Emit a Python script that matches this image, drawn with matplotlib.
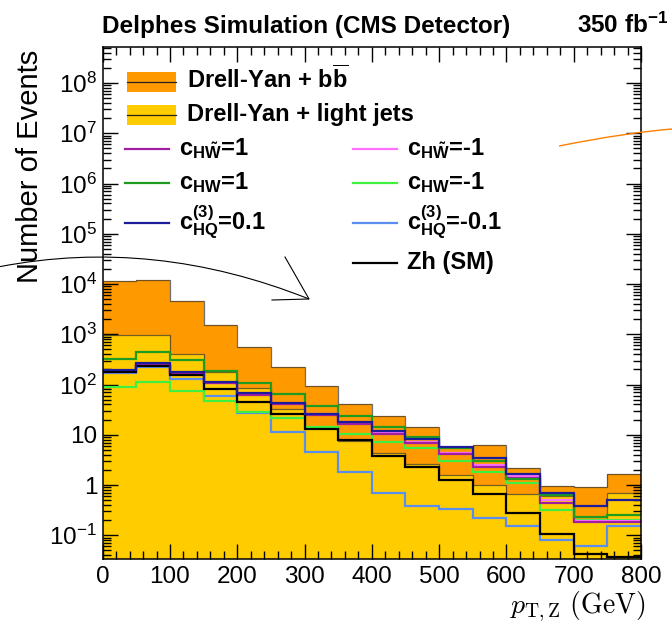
import numpy as np
import matplotlib
matplotlib.use("Agg")
import matplotlib.pyplot as plt
import matplotlib.patches as patches
import matplotlib.transforms as mtransforms
from matplotlib.path import Path
from matplotlib.ticker import FixedLocator, MultipleLocator, LogLocator, NullFormatter

plt.rcParams['font.family'] = ['Liberation Sans', 'DejaVu Sans']
plt.rcParams['mathtext.fontset'] = 'custom'
plt.rcParams['mathtext.rm'] = 'Liberation Sans'
plt.rcParams['mathtext.it'] = 'Liberation Sans:italic'
plt.rcParams['mathtext.bf'] = 'Liberation Sans:bold'

# pT,Z bins (GeV)
edges = np.arange(0, 801, 50)

# backgrounds (stacked)
dy_light = [950, 950, 400, 177, 85, 33, 14, 7.5, 4.4, 2.6, 1.6, 1.0, 0.66, 0.6, 0.2, 0.69]
dy_bb = [10550, 11050, 4200, 1363, 475, 192, 79, 32.5, 19.6, 11.4, 4.1, 5.3, 1.54, 0.35, 0.71, 0.97]

# signal hypotheses
c_hwt_p1 = [185, 250, 170, 105, 63, 40, 25, 16.5, 10.3, 6.8, 4.1, 2.3, 1.36, 0.44, 0.18, 0.18]
c_hwt_m1 = [180, 245, 168, 108, 65, 41, 25.5, 17, 11, 7.2, 4.3, 2.5, 1.5, 0.5, 0.19, 0.19]
c_hw_p1 = [316, 444, 305, 182, 108, 65, 37, 24, 14.3, 9.0, 5.4, 3.0, 1.3, 0.62, 0.23, 0.25]
c_hw_m1 = [90, 111, 73, 46, 29, 21.6, 14.3, 10.5, 7.1, 5.4, 3.0, 1.8, 1.1, 0.32, 0.2, 0.2]
c_hq_p = [193, 263, 179, 111, 68, 43, 26, 18, 12, 8.2, 5.7, 3.4, 1.64, 0.7, 0.38, 0.5]
c_hq_m = [166, 225, 126, 60, 27, 11.6, 4.6, 1.8, 0.7, 0.38, 0.33, 0.22, 0.15, 0.08, 0.06, 0.15]
zh_sm = [175, 235, 158, 82, 45, 26, 13, 7.9, 3.8, 2.26, 1.26, 0.65, 0.28, 0.105, 0.043, 0.037]

ytick_vals = [1e-1, 1, 10, 1e2, 1e3, 1e4, 1e5, 1e6, 1e7, 1e8]
ytick_labels = [r'$10^{-1}$', '1', '10', r'$10^{2}$', r'$10^{3}$', r'$10^{4}$',
                r'$10^{5}$', r'$10^{6}$', r'$10^{7}$', r'$10^{8}$']

ORANGE = '#ff9900'
YELLOW = '#ffcc00'
sig_styles = [
    (c_hq_m, '#5b8def'),
    (c_hw_m1, '#40f040'),
    (c_hwt_m1, '#ff70ff'),
    (c_hwt_p1, '#a01ea0'),
    (zh_sm, 'black'),
    (c_hw_p1, '#1f9b1f'),
    (c_hq_p, '#1c1c9a'),
]

W, H = 672, 635
fig = plt.figure(figsize=(W / 100, H / 100), dpi=100)
# pixel coordinates (origin top-left) -> figure
px = mtransforms.Affine2D().scale(1 / W, -1 / H).translate(0, 1) + fig.transFigure

ax = fig.add_axes([102.7 / W, 1 - 559 / H, (641 - 102.7) / W, (559 - 47) / H])
ax.set_yscale('log')
ymin, ymax = 10 ** (-74 / 50.25), 10 ** (8 + 36 / 50.25)

total = np.array(dy_light) + np.array(dy_bb)
ax.stairs(total, edges, baseline=ymin, fill=True, color=ORANGE, zorder=1)
ax.stairs(dy_light, edges, baseline=ymin, fill=True, color=YELLOW, zorder=1.1)
ax.stairs(total, edges, baseline=None, color='#333333', lw=0.9, alpha=0.7, zorder=1.2)
ax.stairs(dy_light, edges, baseline=None, color='#333333', lw=0.9, alpha=0.7, zorder=1.2)

for vals, col in sig_styles:
    ax.stairs(vals, edges, baseline=None, color=col, lw=1.6, zorder=2)

ax.set_xlim(0, 800)
ax.set_ylim(ymin, ymax)
ax.xaxis.set_major_locator(MultipleLocator(100))
ax.xaxis.set_minor_locator(MultipleLocator(20))
ax.yaxis.set_major_locator(FixedLocator(ytick_vals))
ax.set_yticklabels(ytick_labels)
ax.yaxis.set_minor_locator(LogLocator(base=10, subs=np.arange(2, 10), numticks=30))
ax.yaxis.set_minor_formatter(NullFormatter())
ax.tick_params(which='both', direction='in', top=True, right=True, width=1, labelsize=17.5)
ax.tick_params(which='major', length=10.5)
ax.tick_params(which='minor', length=5.5)
ax.tick_params(axis='x', pad=5)
ax.tick_params(axis='y', pad=4)
for s in ax.spines.values():
    s.set_linewidth(1.1)

# titles
fig.text(102 / W, 1 - 33 / H, 'Delphes Simulation (CMS Detector)', fontsize=17.5,
         fontweight='bold', ha='left', va='baseline')
fig.text(668 / W, 1 - 33 / H, r'350 fb$^{\mathbf{-1}}$', fontsize=17.5, fontweight='bold',
         ha='right', va='baseline')
fig.text(30 / W, 1 - 50 / H, 'Number of Events', fontsize=21, rotation=90, ha='center', va='top')
fig.text(645 / W, 1 - 613 / H, r'$p_{\mathrm{T,Z}}\ (\mathrm{GeV})$', fontsize=20,
         ha='right', va='baseline', math_fontfamily='cm')

# legend
def box_entry(y, color, label):
    fig.add_artist(patches.Rectangle((127, y - 10), 49, 20, transform=px,
                                     facecolor=color, edgecolor='none', zorder=5))
    fig.add_artist(plt.Line2D([127, 176], [y, y], transform=px, color='#222222', lw=0.9, zorder=6))
    fig.text(187, y + 6, label, transform=px, fontsize=17, fontweight='bold', va='baseline', zorder=6)

def line_entry(x, y, color, label):
    fig.add_artist(plt.Line2D([x, x + 44], [y, y], transform=px, color=color, lw=1.6, zorder=6))
    fig.text(x + 54, y + 6, label, transform=px, fontsize=17, fontweight='bold', va='baseline', zorder=6)

box_entry(81.7, ORANGE, r'Drell-Yan + b$\overline{\mathbf{b}}$')
box_entry(115, YELLOW, 'Drell-Yan + light jets')
line_entry(125, 149.3, '#a01ea0', r'$\mathbf{c_{H\tilde{W}}}$=1')
line_entry(353, 149.3, '#ff70ff', r'$\mathbf{c_{H\tilde{W}}}$=-1')
line_entry(125, 183.3, '#1f9b1f', r'$\mathbf{c_{HW}}$=1')
line_entry(353, 183.3, '#40f040', r'$\mathbf{c_{HW}}$=-1')
line_entry(125, 223.3, '#1c1c9a', r'$\mathbf{c^{(3)}_{HQ}}$=0.1')
line_entry(353, 223.3, '#5b8def', r'$\mathbf{c^{(3)}_{HQ}}$=-0.1')
line_entry(353, 263.3, 'black', 'Zh (SM)')

# hand-drawn arrows over the plot
arc = Path([(0, 266.6), (154, 237), (309, 299)], [Path.MOVETO, Path.CURVE3, Path.CURVE3])
fig.add_artist(patches.PathPatch(arc, transform=px, facecolor='none', edgecolor='black', lw=0.8, zorder=7))
fig.add_artist(plt.Line2D([285, 309, 272], [257, 299, 300], transform=px, color='black', lw=0.8, zorder=7))
arc2 = Path([(559, 146), (625, 132.8), (672, 129)], [Path.MOVETO, Path.CURVE3, Path.CURVE3])
fig.add_artist(patches.PathPatch(arc2, transform=px, facecolor='none', edgecolor='#ff8000', lw=1.0, zorder=7))

fig.savefig('out.png', dpi=100)
